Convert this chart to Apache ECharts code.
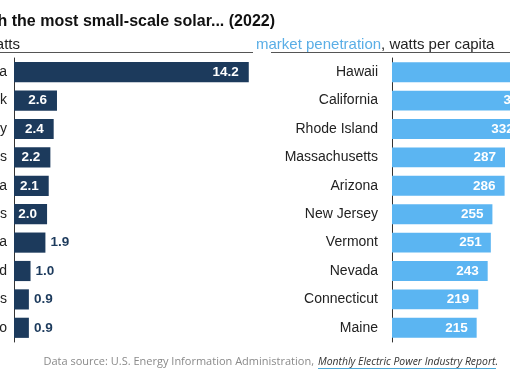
<!DOCTYPE html>
<html><head><meta charset="utf-8">
<script src="https://cdn.jsdelivr.net/npm/echarts@6/dist/echarts.min.js"></script>
<style>html,body{margin:0;padding:0;background:#fff}#c{width:510px;height:382px}</style>
</head><body><div id="c"></div>
<script>
const capacityStates = ['California','New York','New Jersey','Texas','Arizona','Massachusetts','Florida','Maryland','Illinois','Colorado'];
const capacityGW = [14.2, 2.6, 2.4, 2.2, 2.1, 2.0, 1.9, 1.0, 0.9, 0.9];
const penetrationStates = ['Hawaii','California','Rhode Island','Massachusetts','Arizona','New Jersey','Vermont','Nevada','Connecticut','Maine'];
const wattsPerCapita = [708, 363, 332, 287, 286, 255, 251, 243, 219, 215];

const NAVY = '#1c3a5c', SKY = '#5bb5f2', INK = '#222';
const FONT = '"Liberation Sans", Arial, sans-serif';

const chart = echarts.init(document.getElementById('c'), null, {renderer: 'canvas'});

const leftData = capacityGW.map(v => ({
  value: v,
  label: v >= 2.0
    ? {position: 'insideRight', distance: 10, color: '#fff'}
    : {position: 'right', distance: 5, color: NAVY}
}));

chart.setOption({
  animation: false,
  backgroundColor: '#fff',
  grid: [
    {left: 14, top: 58, width: 248, height: 284, containLabel: false, outerBoundsMode: 'none'},
    {left: 392, top: 58, width: 315, height: 284, containLabel: false, outerBoundsMode: 'none'}
  ],
  xAxis: [
    {gridIndex: 0, type: 'value', min: 0, max: 15, show: false},
    {gridIndex: 1, type: 'value', min: 0, max: 800, show: false}
  ],
  yAxis: [
    {gridIndex: 0, type: 'category', inverse: true, data: capacityStates,
     axisLine: {show: true, lineStyle: {color: '#333', width: 1}}, axisTick: {show: false},
     axisLabel: {margin: 7, fontSize: 14, color: INK, fontFamily: FONT}},
    {gridIndex: 1, type: 'category', inverse: true, data: penetrationStates,
     axisLine: {show: true, lineStyle: {color: '#333', width: 1}}, axisTick: {show: false},
     axisLabel: {margin: 14, fontSize: 14, color: INK, fontFamily: FONT}}
  ],
  series: [
    {type: 'bar', xAxisIndex: 0, yAxisIndex: 0, data: leftData, barCategoryGap: '29%',
     itemStyle: {color: NAVY}, z: 1,
     label: {show: true, fontSize: 13.5, fontWeight: 'bold', fontFamily: FONT,
             formatter: p => p.value.toFixed(1)}},
    {type: 'bar', xAxisIndex: 1, yAxisIndex: 1, data: wattsPerCapita, barCategoryGap: '30%',
     itemStyle: {color: SKY}, z: 1,
     label: {show: true, position: 'insideRight', distance: 9, color: '#fff',
             fontSize: 13.5, fontWeight: 'bold', fontFamily: FONT}}
  ],
  graphic: [
    {type: 'text', x: 275, y: 22, style: {text: 'States with the most small-scale solar... (2022)',
      textAlign: 'right', textVerticalAlign: 'middle', fill: '#111',
      font: 'bold 16px "Liberation Sans", Arial, sans-serif'}},
    {type: 'text', x: 20, y: 45, style: {text: 'total capacity, gigawatts',
      textAlign: 'right', textVerticalAlign: 'middle', fill: INK,
      font: '15px "Liberation Sans", Arial, sans-serif'}},
    {type: 'line', shape: {x1: 0, y1: 52.5, x2: 253, y2: 52.5}, style: {stroke: '#555', lineWidth: 1}},
    {type: 'text', x: 256, y: 45, style: {
      text: '{a|market penetration}{b|, watts per capita}', textVerticalAlign: 'middle',
      rich: {a: {fill: '#5aaee6', font: '15px "Liberation Sans", Arial, sans-serif'},
             b: {fill: INK, font: '15px "Liberation Sans", Arial, sans-serif'}}}},
    {type: 'line', shape: {x1: 271, y1: 52.5, x2: 510, y2: 52.5}, style: {stroke: '#555', lineWidth: 1}},
    {type: 'text', x: 314, y: 362, style: {text: 'Data source: U.S. Energy Information Administration,',
      textAlign: 'right', textVerticalAlign: 'middle', fill: '#8a8a8a',
      font: '11px "Open Sans", sans-serif'}},
    {type: 'text', x: 318, y: 362, style: {text: 'Monthly Electric Power Industry Report.',
      textAlign: 'left', textVerticalAlign: 'middle', fill: '#333',
      font: 'italic 10.4px "Open Sans", sans-serif'}},
    {type: 'line', shape: {x1: 318, y1: 368.5, x2: 496, y2: 368.5}, style: {stroke: '#4aa8d8', lineWidth: 1}}
  ]
});
</script></body></html>
